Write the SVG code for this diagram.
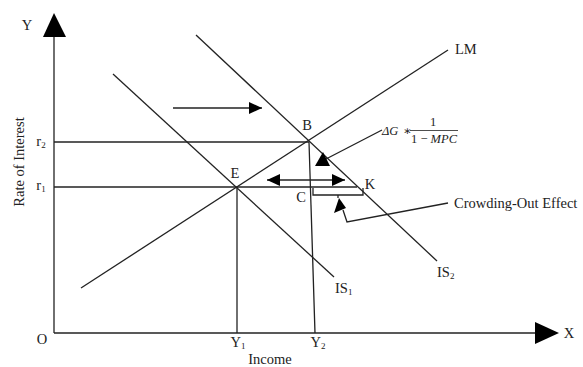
<svg xmlns="http://www.w3.org/2000/svg" width="583" height="367" viewBox="0 0 583 367">
<style>
.ln{stroke:#222;stroke-width:1.3;fill:none}
.hd{fill:#000;stroke:none}
.t{font-family:"Liberation Serif","Times New Roman",serif;font-size:14.5px;fill:#222}
.m{font-family:"Liberation Serif","DejaVu Serif",serif;font-style:italic;font-size:12.5px;fill:#222}
.n{font-style:normal}
</style>
<defs>
<marker id="ah" viewBox="0 0 13 12" refX="13" refY="6" markerWidth="13" markerHeight="12" markerUnits="userSpaceOnUse" orient="auto-start-reverse">
<path d="M0,0 L13,6 L0,12 Z" fill="#000"/>
</marker>
</defs>
<rect width="583" height="367" fill="#fff"/>
<g id="axes">
<line class="ln" x1="54" y1="36" x2="54" y2="333"/>
<line class="ln" x1="54" y1="333" x2="536" y2="333"/>
<polygon class="hd" points="54,13 43,37 66,37"/>
<polygon class="hd" points="559,333 535,322 535,344"/>
<text class="t" x="27" y="30" text-anchor="middle">Y</text>
<text class="t" x="569" y="338" text-anchor="middle">X</text>
<text class="t" x="42" y="344" text-anchor="middle">O</text>
<text class="t" x="270" y="364" text-anchor="middle" font-size="15.5">Income</text>
<text class="t" transform="translate(24,162) rotate(-90)" text-anchor="middle" font-size="16">Rate of Interest</text>
</g>
<g id="guides">
<line class="ln" x1="54" y1="142" x2="309" y2="142"/>
<line class="ln" x1="54" y1="187" x2="357" y2="187"/>
<line class="ln" x1="237" y1="187" x2="237" y2="333"/>
<line class="ln" x1="309" y1="142" x2="315" y2="333"/>
<text class="t" x="41" y="146" text-anchor="middle">r<tspan font-size="9" dy="2">2</tspan></text>
<text class="t" x="41" y="190" text-anchor="middle">r<tspan font-size="9" dy="2">1</tspan></text>
<text class="t" x="238" y="347" text-anchor="middle">Y<tspan font-size="9" dy="2">1</tspan></text>
<text class="t" x="318" y="347" text-anchor="middle">Y<tspan font-size="9" dy="2">2</tspan></text>
</g>
<g id="LM">
<line class="ln" x1="81" y1="288" x2="448" y2="50"/>
<text class="t" x="455" y="54">LM</text>
</g>
<g id="IS1">
<line class="ln" x1="113" y1="74" x2="334" y2="277"/>
<text class="t" x="335" y="293">IS<tspan font-size="9" dy="2">1</tspan></text>
</g>
<g id="IS2">
<line class="ln" x1="196" y1="35" x2="437" y2="261"/>
<text class="t" x="437" y="277">IS<tspan font-size="9" dy="2">2</tspan></text>
</g>
<g id="points">
<text class="t" x="235" y="178" text-anchor="middle">E</text>
<text class="t" x="307" y="130" text-anchor="middle">B</text>
<text class="t" x="301" y="202" text-anchor="middle">C</text>
<text class="t" x="370" y="189" text-anchor="middle">K</text>
</g>
<g id="connectors">
<line class="ln" x1="173" y1="108" x2="262" y2="108" marker-end="url(#ah)"/>
<line class="ln" x1="267" y1="180" x2="345" y2="180" marker-start="url(#ah)" marker-end="url(#ah)"/>
<polyline class="ln" points="313,188 313,195 363,195 363,188"/>
<line class="ln" x1="338" y1="195" x2="338" y2="198"/>
<line class="ln" x1="382" y1="130" x2="326" y2="159"/>
<polygon class="hd" points="315,166 323,152 330,166"/>
<polyline class="ln" points="448,203 347,222 343,210"/>
<polygon class="hd" points="334,213 339,198 346,208"/>
</g>
<g id="labels">
<text class="m" x="382" y="135">ΔG</text>
<text class="m n" x="403" y="135">∗</text>
<text class="m n" x="433" y="126" text-anchor="middle">1</text>
<line x1="410" y1="130.5" x2="458" y2="130.5" stroke="#222" stroke-width="0.8"/>
<text class="m" x="434" y="143" text-anchor="middle"><tspan class="n">1 − </tspan>MPC</text>
<text class="t" x="454" y="208">Crowding-Out Effect</text>
</g>
</svg>
